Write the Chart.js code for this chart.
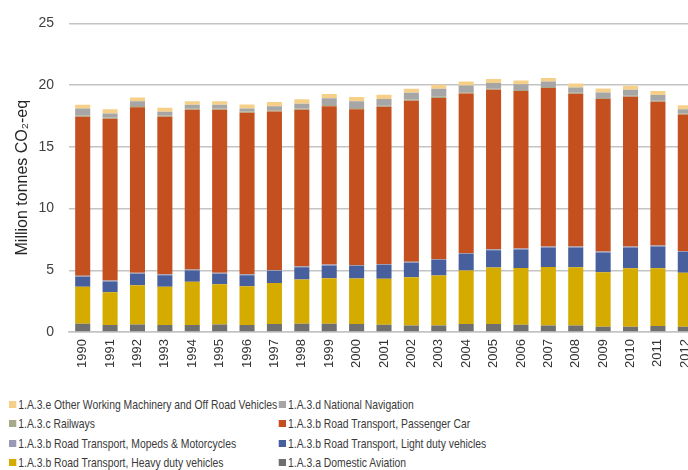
<!DOCTYPE html>
<html>
<head>
<meta charset="utf-8">
<script src="https://cdn.jsdelivr.net/npm/chart.js@4/dist/chart.umd.min.js"></script>
<style>
    body {
        margin: 0;
        width: 688px;
        height: 470px;
        overflow: hidden;
        background: #ffffff;
        position: relative;
    }
    #wrap {
        position: absolute;
        left: 0;
        top: 0;
        width: 712px;
        height: 390px;
    }
    #legend {
        position: absolute;
        left: 9px;
        top: 395px;
        display: grid;
        grid-template-columns: 333px auto;
        grid-auto-rows: 19.3px;
        font-family: "Liberation Sans", Arial, sans-serif;
        font-size: 12.8px;
        color: #3a3a3a;
        white-space: nowrap;
        transform: scaleX(0.81);
        transform-origin: 0 0;
    }
    .legend-item {
        display: flex;
        align-items: center;
    }
    .legend-item span {
        display: inline-block;
        width: 8.5px;
        height: 7px;
        margin-right: 3px;
    }
</style>
</head>
<body>
<div id="wrap"><canvas id="transportChart" width="712" height="390"></canvas></div>
<div id="legend"></div>
<script>
const years = ['1990', '1991', '1992', '1993', '1994', '1995', '1996', '1997', '1998', '1999', '2000',
    '2001', '2002', '2003', '2004', '2005', '2006', '2007', '2008', '2009', '2010', '2011', '2012'];

// Stack order, bottom to top
const domesticAviation = [0.66, 0.56, 0.61, 0.56, 0.56, 0.61, 0.56, 0.64, 0.66, 0.66, 0.64, 0.58, 0.53, 0.53, 0.64, 0.64, 0.58, 0.53, 0.53, 0.42, 0.42, 0.48, 0.42];
const heavyDuty = [3.01, 2.66, 3.17, 3.11, 3.51, 3.25, 3.14, 3.32, 3.60, 3.70, 3.70, 3.73, 3.91, 4.05, 4.34, 4.58, 4.61, 4.74, 4.71, 4.42, 4.74, 4.68, 4.37];
const lightDuty = [0.80, 0.88, 0.93, 0.93, 0.91, 0.85, 0.90, 0.99, 0.98, 1.02, 1.01, 1.12, 1.18, 1.25, 1.33, 1.41, 1.49, 1.57, 1.60, 1.60, 1.68, 1.76, 1.70];
const mopeds = [0.08, 0.08, 0.08, 0.08, 0.08, 0.08, 0.08, 0.08, 0.08, 0.08, 0.08, 0.08, 0.08, 0.08, 0.08, 0.08, 0.08, 0.08, 0.08, 0.08, 0.08, 0.08, 0.08];
const passengerCar = [12.89, 13.10, 13.42, 12.76, 12.94, 13.21, 13.08, 12.83, 12.68, 12.83, 12.62, 12.73, 13.04, 13.05, 12.94, 12.91, 12.76, 12.84, 12.38, 12.36, 12.14, 11.66, 11.05];
const railways = [0.10, 0.10, 0.10, 0.10, 0.10, 0.10, 0.10, 0.10, 0.10, 0.10, 0.09, 0.09, 0.09, 0.09, 0.09, 0.09, 0.09, 0.08, 0.08, 0.08, 0.08, 0.08, 0.08];
const navigation = [0.56, 0.32, 0.38, 0.30, 0.30, 0.30, 0.24, 0.33, 0.40, 0.54, 0.55, 0.55, 0.55, 0.65, 0.55, 0.47, 0.47, 0.45, 0.43, 0.45, 0.48, 0.46, 0.35];
const otherMachinery = [0.30, 0.35, 0.31, 0.32, 0.29, 0.29, 0.32, 0.35, 0.35, 0.35, 0.35, 0.34, 0.32, 0.32, 0.32, 0.32, 0.29, 0.29, 0.32, 0.32, 0.32, 0.32, 0.32];

const yTicks = [0, 5, 10, 15, 20, 25];

const textColor = '#404040';
const gridColor = '#c4c4c4';

const series = [
    { label: '1.A.3.a Domestic Aviation', data: domesticAviation, color: '#6f6f6f' },
    { label: '1.A.3.b Road Transport, Heavy duty vehicles', data: heavyDuty, color: '#d6ab00' },
    { label: '1.A.3.b Road Transport, Light duty vehicles', data: lightDuty, color: '#485f9e' },
    { label: '1.A.3.b Road Transport, Mopeds & Motorcycles', data: mopeds, color: '#9a9ab4' },
    { label: '1.A.3.b Road Transport, Passenger Car', data: passengerCar, color: '#c5501f' },
    { label: '1.A.3.c Railways', data: railways, color: '#a8a88a' },
    { label: '1.A.3.d National Navigation', data: navigation, color: '#a6a6a6' },
    { label: '1.A.3.e Other Working Machinery and Off Road Vehicles', data: otherMachinery, color: '#f6d088' },
];

Chart.defaults.font.family = '"Liberation Sans", Arial, sans-serif';

new Chart(document.getElementById('transportChart'), {
    type: 'bar',
    data: {
        labels: years,
        datasets: series.map((s) => ({
            label: s.label,
            data: s.data,
            backgroundColor: s.color,
            borderWidth: 0,
            categoryPercentage: 1,
            barPercentage: 0.55,
        })),
    },
    options: {
        responsive: false,
        devicePixelRatio: 1,
        animation: false,
        layout: {
            padding: { top: 20, right: 13, bottom: 0, left: 0 },
        },
        plugins: {
            legend: { display: false },
            tooltip: { enabled: false },
        },
        scales: {
            x: {
                stacked: true,
                afterFit: (scale) => { scale.height = 58; },
                grid: { display: false, drawTicks: false },
                border: { color: gridColor, width: 1.5 },
                ticks: {
                    color: '#333333',
                    minRotation: 90,
                    maxRotation: 90,
                    padding: 7,
                    font: { size: 13 },
                },
            },
            y: {
                stacked: true,
                min: 0,
                max: 25,
                afterFit: (scale) => { scale.width = 69; },
                afterBuildTicks: (scale) => {
                    scale.ticks = yTicks.map((v) => ({ value: v }));
                },
                grid: { color: gridColor, lineWidth: 1.5, drawTicks: false },
                border: { display: false },
                ticks: {
                    color: textColor,
                    padding: 15,
                    font: { size: 14 },
                },
                title: {
                    display: true,
                    text: 'Million tonnes CO₂-eq',
                    color: '#262626',
                    padding: { top: 13, bottom: 0 },
                    font: { size: 16 },
                },
            },
        },
    },
});

// Legend in the same order as the original (reverse of the stack)
const legend = document.getElementById('legend');

series.slice().reverse().forEach((s) => {
    const item = document.createElement('div');
    const swatch = document.createElement('span');

    item.className = 'legend-item';
    swatch.style.background = s.color;
    item.append(swatch, document.createTextNode(s.label));
    legend.append(item);
});
</script>
</body>
</html>
